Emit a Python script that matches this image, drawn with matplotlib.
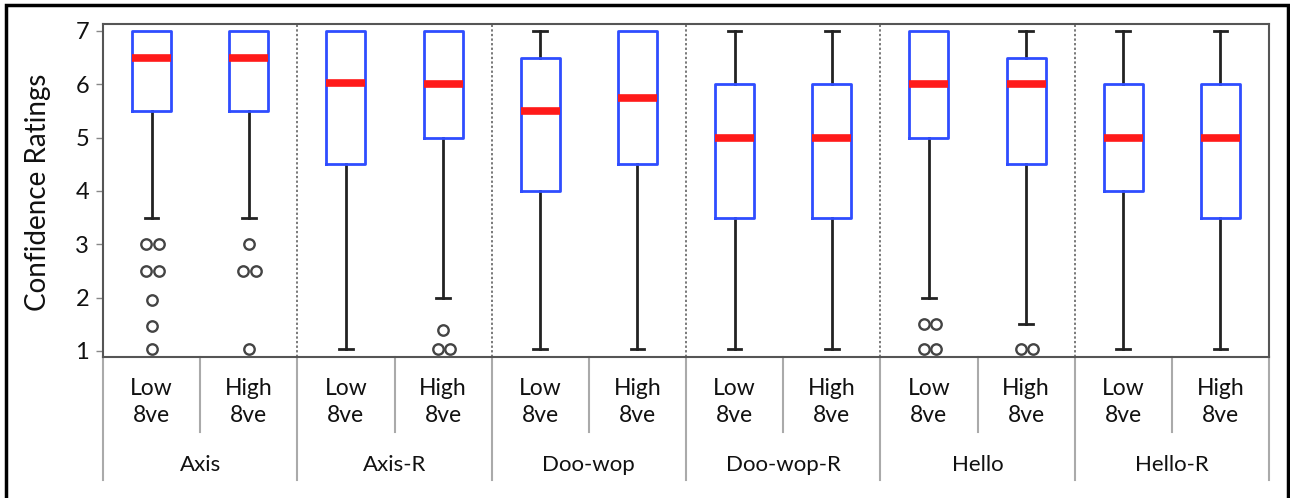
import matplotlib
matplotlib.use("Agg")
import matplotlib.pyplot as plt
import matplotlib.transforms as mtransforms
from matplotlib.patches import Rectangle
from collections import Counter

plt.rcParams['font.family'] = ['Lato', 'DejaVu Sans']

groups = ["Axis", "Axis-R", "Doo-wop", "Doo-wop-R", "Hello", "Hello-R"]
conditions = ["Low\n8ve", "High\n8ve"]

# per box (order: group x condition)
q1 = [5.5, 5.5, 4.5, 5.0, 4.0, 4.5, 3.5, 3.5, 5.0, 4.5, 4.0, 3.5]
med = [6.5, 6.5, 6.02, 6.0, 5.5, 5.75, 5.0, 5.0, 6.0, 6.0, 5.0, 5.0]
q3 = [7.0, 7.0, 7.0, 7.0, 6.5, 7.0, 6.0, 6.0, 7.0, 6.5, 6.0, 6.0]
whislo = [3.5, 3.5, 1.04, 2.0, 1.04, 1.04, 1.04, 1.04, 2.0, 1.5, 1.04, 1.04]
whishi = [7.0, 7.0, 7.0, 7.0, 7.0, 7.0, 7.0, 7.0, 7.0, 7.0, 7.0, 7.0]
fliers = [
    [3.0, 3.0, 2.5, 2.5, 1.95, 1.47, 1.04],
    [3.0, 2.5, 2.5, 1.04],
    [],
    [1.4, 1.04, 1.04],
    [], [], [], [],
    [1.5, 1.5, 1.04, 1.04],
    [1.04, 1.04],
    [], [],
]

W, H = 1290, 498
fig = plt.figure(figsize=(W / 100, H / 100), dpi=100)
ax = fig.add_axes([103 / W, 1 - 357 / H, (1269 - 103) / W, (357 - 24) / H])

stats = []
for i in range(len(q1)):
    stats.append(dict(med=med[i], q1=q1[i], q3=q3[i], whislo=whislo[i],
                      whishi=whishi[i], fliers=[]))
positions = list(range(1, len(q1) + 1))
art = ax.bxp(stats, positions=positions, widths=0.4, showfliers=False,
             boxprops=dict(color='#2f4dff', linewidth=2.0, zorder=4),
             medianprops=dict(color='#ff1a1a', linewidth=5.5, solid_capstyle='butt', zorder=5),
             whiskerprops=dict(color='#222222', linewidth=2, zorder=2),
             capprops=dict(color='#222222', linewidth=2, zorder=2), capwidths=0.14)
# hide caps that coincide with the box edge
for i in range(len(q1)):
    if whishi[i] == q3[i]:
        art['caps'][2 * i + 1].set_visible(False)
    if whislo[i] == q1[i]:
        art['caps'][2 * i].set_visible(False)

# outliers (pairs of equal values drawn side by side)
for i, fl in enumerate(fliers):
    cnt = Counter(fl)
    for v, n in cnt.items():
        if n == 1:
            xs = [positions[i]]
        else:
            xs = [positions[i] - 0.055, positions[i] + 0.075]
        ax.plot(xs, [v] * len(xs), linestyle='none', marker='o', ms=7.5,
                mfc='white', mec='#444444', mew=1.7, zorder=3)

ax.set_xlim(0.5, len(q1) + 0.5)
ax.set_ylim(0.8875, 7.131)
ax.set_yticks([1, 2, 3, 4, 5, 6, 7])
ax.tick_params(axis='y', length=5, width=1, color='#888888', labelsize=17,
               pad=5, labelcolor='#111111')
ax.set_xticks([])
for s in ax.spines.values():
    s.set_color('#555555')
    s.set_linewidth(1.5)

# dotted group separators inside plot
for g in range(1, len(groups)):
    ax.axvline(2 * g + 0.5, color='#555555', linestyle=(0, (1.5, 1.5)), linewidth=1.1)

# category table below axis
tr = mtransforms.blended_transform_factory(ax.transData, fig.transFigure)
y_axis = 1 - 357 / H
y_sub = 1 - 432 / H
y_grp = 1 - 480 / H
for g in range(len(groups) + 1):
    x = 2 * g + 0.5
    ax.plot([x, x], [y_axis, y_grp], transform=tr, clip_on=False,
            color='#aaaaaa', linewidth=1.5)
for g in range(len(groups)):
    x = 2 * g + 1.5
    ax.plot([x, x], [y_axis, y_sub], transform=tr, clip_on=False,
            color='#aaaaaa', linewidth=1.5)
    ax.text(2 * g + 1.5, 1 - 465 / H, groups[g], transform=tr, ha='center',
            va='center', fontsize=16, color='#111111')
    for c in range(len(conditions)):
        ax.text(2 * g + 1 + c, 1 - 402 / H, conditions[c], transform=tr,
                ha='center', va='center', fontsize=16.5, linespacing=1.4,
                color='#111111')

fig.text(38 / W, 1 - 192 / H, "Confidence Ratings", rotation=90, ha='center',
         va='center', fontsize=20, color='#111111')

# outer frame
fig.patches.append(Rectangle((6 / W, -0.05), (1288 - 6) / W, 1 - 5 / H + 0.05,
                             transform=fig.transFigure, fill=False,
                             edgecolor='black', linewidth=2.5))

fig.savefig("out.png", dpi=100)
